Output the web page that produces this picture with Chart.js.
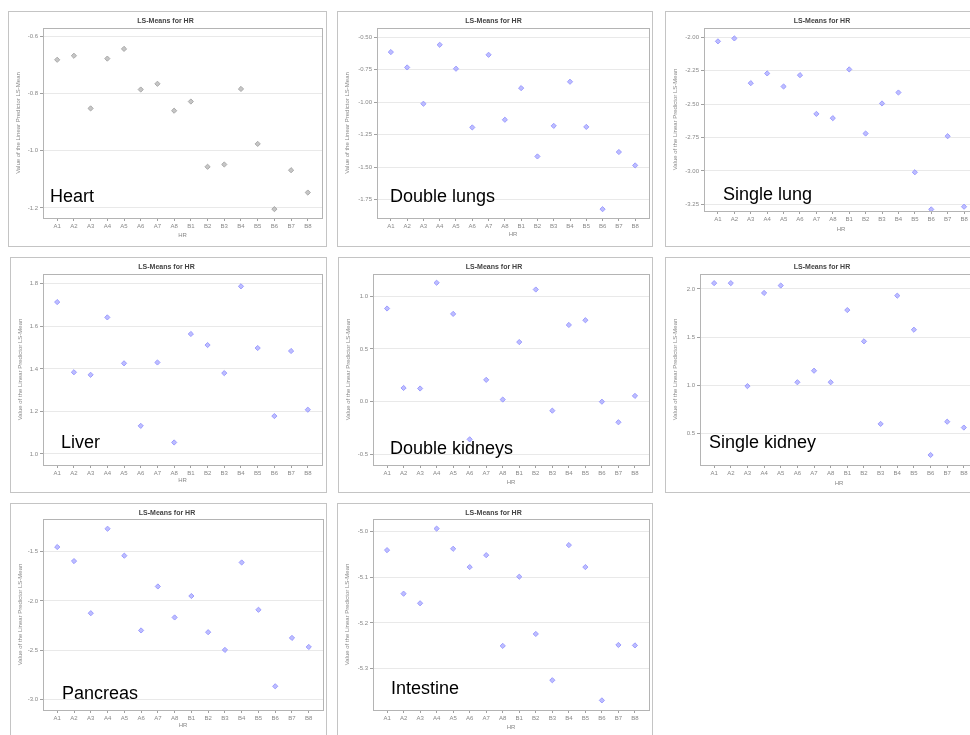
<!DOCTYPE html>
<html>
<head>
<meta charset="utf-8">
<script src="https://cdn.jsdelivr.net/npm/chart.js@4.4.1/dist/chart.umd.min.js"></script>
<style>
  html, body { margin: 0; padding: 0; background: #fff; overflow: hidden; }
  body { width: 970px; height: 735px; position: relative; font-family: "Liberation Sans", Arial, sans-serif; }
  .box { position: absolute; border: 1px solid #c4c4c4; box-sizing: border-box; }
  canvas { position: absolute; }
  .organ { position: absolute; font-size: 18px; line-height: 20px; color: #000; white-space: nowrap; }
</style>
</head>
<body>
<script>
// HR categories on every x axis
const categories = ['A1','A2','A3','A4','A5','A6','A7','A8','B1','B2','B3','B4','B5','B6','B7','B8'];

// LS-means
const heart = [-0.682, -0.668, -0.852, -0.678, -0.644, -0.786, -0.766, -0.86, -0.828, -1.056, -1.048, -0.784, -0.976, -1.204, -1.068, -1.146];
const doubleLungs = [-0.615, -0.733, -1.012, -0.559, -0.743, -1.194, -0.636, -1.135, -0.892, -1.417, -1.182, -0.843, -1.19, -1.822, -1.383, -1.486];
const singleLung = [-2.03, -2.008, -2.343, -2.27, -2.368, -2.283, -2.573, -2.605, -2.24, -2.72, -2.495, -2.413, -3.01, -3.288, -2.74, -3.268];
const liver = [1.714, 1.384, 1.372, 1.642, 1.426, 1.132, 1.43, 1.054, 1.564, 1.512, 1.38, 1.788, 1.498, 1.178, 1.484, 1.208];
const doubleKidneys = [0.883, 0.13, 0.125, 1.127, 0.832, -0.357, 0.207, 0.02, 0.565, 1.063, -0.085, 0.727, 0.772, 0.0, -0.195, 0.055];
const singleKidney = [2.06, 2.06, 0.99, 1.958, 2.035, 1.03, 1.15, 1.03, 1.78, 1.455, 0.597, 1.93, 1.576, 0.274, 0.62, 0.559];
const pancreas = [-1.452, -1.595, -2.125, -1.266, -1.54, -2.3, -1.853, -2.168, -1.95, -2.318, -2.498, -1.609, -2.09, -2.868, -2.376, -2.468];
const intestine = [-5.041, -5.136, -5.157, -4.994, -5.038, -5.078, -5.052, -5.25, -5.099, -5.224, -5.325, -5.03, -5.078, -5.369, -5.248, -5.249];

// y tick labels per panel
const heartTicks = [-0.6, -0.8, -1.0, -1.2];
const doubleLungsTicks = [-0.5, -0.75, -1.0, -1.25, -1.5, -1.75];
const singleLungTicks = [-2.0, -2.25, -2.5, -2.75, -3.0, -3.25];
const liverTicks = [1.8, 1.6, 1.4, 1.2, 1.0];
const doubleKidneysTicks = [1.0, 0.5, 0.0, -0.5];
const singleKidneyTicks = [2.0, 1.5, 1.0, 0.5];
const pancreasTicks = [-1.5, -2.0, -2.5, -3.0];
const intestineTicks = [-5.0, -5.1, -5.2, -5.3];

// axis ranges [min, max]
const heartRange = [-1.235, -0.571];
const doubleLungsRange = [-1.89, -0.43];
const singleLungRange = [-3.30, -1.93];
const liverRange = [0.948, 1.846];
const doubleKidneysRange = [-0.6, 1.21];
const singleKidneyRange = [0.17, 2.155];
const pancreasRange = [-3.109, -1.167];
const intestineRange = [-5.39, -4.973];

const chartTitle = 'LS-Means for HR';
const xTitle = 'HR';
const yTitle = 'Value of the Linear Predictor LS-Mean';

Chart.defaults.font.family = '"Liberation Sans", Arial, sans-serif';

// layout: box = [x, y, w, h], plot = [left, top, right, bottom], label = [x, y], hr = y of x title
const panels = [
  { organ: 'Heart', values: heart, ticks: heartTicks, range: heartRange, dec: 1, color: '#a9a9a9',
    box: [8, 11, 319, 236], plot: [43, 28, 323, 218], label: [50, 186], hr: 235 },
  { organ: 'Double lungs', values: doubleLungs, ticks: doubleLungsTicks, range: doubleLungsRange, dec: 2, color: '#9c9cff',
    box: [337, 11, 316, 236], plot: [377, 28, 650, 218], label: [390, 186], hr: 234 },
  { organ: 'Single lung', values: singleLung, ticks: singleLungTicks, range: singleLungRange, dec: 2, color: '#9c9cff',
    box: [665, 11, 310, 236], plot: [704, 28, 979, 211], label: [723, 184], hr: 229 },
  { organ: 'Liver', values: liver, ticks: liverTicks, range: liverRange, dec: 1, color: '#9c9cff',
    box: [10, 257, 317, 236], plot: [43, 274, 323, 465], label: [61, 432], hr: 480 },
  { organ: 'Double kidneys', values: doubleKidneys, ticks: doubleKidneysTicks, range: doubleKidneysRange, dec: 1, color: '#9c9cff',
    box: [338, 257, 315, 236], plot: [373, 274, 650, 465], label: [390, 438], hr: 482 },
  { organ: 'Single kidney', values: singleKidney, ticks: singleKidneyTicks, range: singleKidneyRange, dec: 1, color: '#9c9cff',
    box: [665, 257, 310, 236], plot: [700, 274, 979, 465], label: [709, 432], hr: 483 },
  { organ: 'Pancreas', values: pancreas, ticks: pancreasTicks, range: pancreasRange, dec: 1, color: '#9c9cff',
    box: [10, 503, 317, 240], plot: [43, 519, 324, 710], label: [62, 683], hr: 725 },
  { organ: 'Intestine', values: intestine, ticks: intestineTicks, range: intestineRange, dec: 1, color: '#9c9cff',
    box: [337, 503, 316, 240], plot: [373, 519, 650, 710], label: [391, 678], hr: 727 }
];

// outline of the plot area on all four sides
const frame = {
  id: 'frame',
  beforeDatasetsDraw(chart) {
    const a = chart.chartArea, ctx = chart.ctx;
    ctx.save();
    ctx.strokeStyle = '#b4b4b4';
    ctx.lineWidth = 1;
    ctx.strokeRect(Math.round(a.left) + 0.5, Math.round(a.top) + 0.5, Math.round(a.right - a.left), Math.round(a.bottom - a.top));
    ctx.restore();
  }
};

panels.forEach(p => {
  const [bx, by, bw, bh] = p.box;
  const [pl, pt, pr, pb] = p.plot;

  const box = document.createElement('div');
  box.className = 'box';
  box.style.left = bx + 'px';
  box.style.top = by + 'px';
  box.style.width = bw + 'px';
  box.style.height = bh + 'px';
  document.body.appendChild(box);

  const cw = Math.max(bw - 2, pr - bx + 4);
  const canvas = document.createElement('canvas');
  canvas.width = cw;
  canvas.height = bh;
  canvas.style.left = bx + 'px';
  canvas.style.top = by + 'px';
  document.body.appendChild(canvas);

  const topH = pt - by;
  const bottomH = by + bh - pb;
  const leftW = pl - bx;

  new Chart(canvas.getContext('2d'), {
    type: 'scatter',
    data: {
      datasets: [{
        data: p.values.map((v, i) => ({ x: i, y: v })),
        pointStyle: 'rectRot',
        pointRadius: 2.6,
        backgroundColor: p.color + 'aa',
        borderColor: p.color,
        borderWidth: 1
      }]
    },
    options: {
      responsive: false,
      animation: false,
      devicePixelRatio: 1,
      layout: { padding: { left: 0, top: 0, bottom: 0, right: cw - (pr - bx) } },
      plugins: {
        legend: { display: false },
        tooltip: { enabled: false },
        title: {
          display: true,
          text: chartTitle,
          color: '#444',
          font: { size: 7, weight: 'bold' },
          padding: { top: 6, bottom: topH - 6 - 8.4 }
        }
      },
      scales: {
        x: {
          type: 'linear',
          min: -0.85,
          max: categories.length - 1 + 0.85,
          afterBuildTicks: s => { s.ticks = categories.map((c, i) => ({ value: i })); },
          afterFit: s => { s.height = bottomH; },
          ticks: {
            autoSkip: false,
            maxRotation: 0,
            color: '#888',
            font: { size: 6 },
            padding: 2,
            callback: v => categories[v]
          },
          grid: { drawOnChartArea: false, tickLength: 3, tickColor: '#a0a0a0' },
          border: { color: '#b4b4b4' },
          title: {
            display: true,
            text: xTitle,
            color: '#888',
            font: { size: 6 },
            padding: { top: 0, bottom: by + bh - p.hr - 3.6 }
          }
        },
        y: {
          min: p.range[0],
          max: p.range[1],
          afterBuildTicks: s => { s.ticks = p.ticks.map(v => ({ value: v })); },
          afterFit: s => { s.width = leftW; },
          ticks: {
            color: '#888',
            font: { size: 6 },
            padding: 2,
            callback: v => v.toFixed(p.dec)
          },
          grid: { color: '#e9e9e9', tickLength: 3, tickColor: '#a0a0a0' },
          border: { color: '#b4b4b4' },
          title: {
            display: true,
            text: yTitle,
            color: '#888',
            font: { size: 6 },
            padding: { top: 7, bottom: 0 }
          }
        }
      }
    },
    plugins: [frame]
  });

  const lab = document.createElement('div');
  lab.className = 'organ';
  lab.textContent = p.organ;
  lab.style.left = p.label[0] + 'px';
  lab.style.top = p.label[1] + 'px';
  document.body.appendChild(lab);
});
</script>
</body>
</html>
